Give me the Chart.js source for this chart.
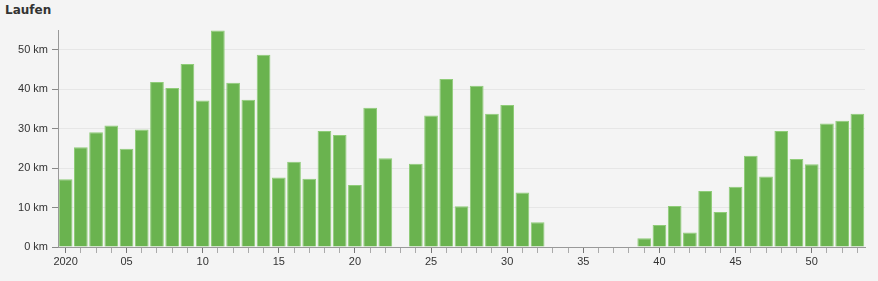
<!DOCTYPE html>
<html>
<head>
<meta charset="utf-8">
<script src="https://cdn.jsdelivr.net/npm/chart.js@4"></script>
<style>
  html, body { margin: 0; padding: 0; background: #f4f4f4; }
  #wrap { position: relative; width: 878px; height: 281px; overflow: hidden; }
  #title { position: absolute; left: 5px; top: 3px; font: bold 12px "DejaVu Sans", sans-serif; color: #333; }
  canvas { position: absolute; left: 0; top: 0; }
</style>
</head>
<body>
<div id="wrap">
  <div id="title">Laufen</div>
  <canvas id="c" width="878" height="281"></canvas>
</div>
<script>
// Calendar weeks of 2020
const weeks = [1,2,3,4,5,6,7,8,9,10,11,12,13,14,15,16,17,18,19,20,21,22,23,24,25,26,27,28,29,30,31,32,33,34,35,36,37,38,39,40,41,42,43,44,45,46,47,48,49,50,51,52,53];
// Weekly running distance (km)
const distanceKm = [17.2,25.3,29.1,30.8,24.9,29.8,41.8,40.3,46.4,37.1,54.9,41.6,37.3,48.7,17.6,21.6,17.3,29.4,28.4,15.7,35.3,22.5,0,21.1,33.3,42.6,10.3,40.9,33.8,36.0,13.8,6.3,0,0,0,0,0,0,2.2,5.6,10.4,3.7,14.2,8.9,15.3,23.1,17.9,29.4,22.3,21.0,31.3,32.0,33.8];
// X tick labels (blank = tick mark only)
const xTickLabels = ['2020','','','','05','','','','','10','','','','','15','','','','','20','','','','','25','','','','','30','','','','','35','','','','','40','','','','','45','','','','','50','','',''];
// Y tick values
const yTicks = [0,10,20,30,40,50];
const yMax = 55;

const tickFont = { family: '"Liberation Sans", Arial, sans-serif', size: 11 };

new Chart(document.getElementById('c'), {
  type: 'bar',
  data: {
    labels: weeks,
    datasets: [{
      data: distanceKm,
      backgroundColor: '#6ab34f',
      borderColor: '#8fcc78',
      borderWidth: 1,
      barPercentage: 0.9,
      categoryPercentage: 1.0
    }]
  },
  options: {
    responsive: false,
    animation: false,
    layout: { padding: { left: 0, right: 13, top: 30, bottom: 0 } },
    plugins: { legend: { display: false }, tooltip: { enabled: false }, title: { display: false } },
    scales: {
      x: {
        offset: true,
        grid: {
          offset: false,
          drawOnChartArea: false,
          tickLength: 6,
          color: (ctx) => (xTickLabels[ctx.index] ? '#777' : '#aaa')
        },
        border: { color: '#999' },
        ticks: {
          autoSkip: false,
          maxRotation: 0,
          minRotation: 0,
          padding: 2,
          color: '#333',
          font: tickFont,
          callback: (v, i) => xTickLabels[i]
        },
        afterFit: (s) => { s.height = 34; }
      },
      y: {
        min: 0,
        max: yMax,
        afterBuildTicks: (s) => { s.ticks = yTicks.map(v => ({ value: v })); },
        grid: {
          color: '#e6e6e6',
          tickColor: '#888',
          tickLength: 6
        },
        border: { color: '#999' },
        ticks: {
          padding: 4,
          color: '#333',
          font: tickFont,
          callback: (v) => v + ' km'
        },
        afterFit: (s) => { s.width = 58; }
      }
    }
  }
});
</script>
</body>
</html>
